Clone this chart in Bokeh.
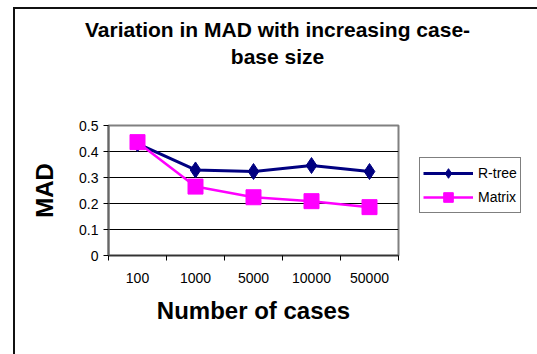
from bokeh.plotting import figure
from bokeh.layouts import column, row
from bokeh.models import (Range1d, LinearAxis, FixedTicker, Label,
                          Legend, LegendItem, ColumnDataSource)
from bokeh.embed import file_html
from bokeh.resources import INLINE

# ---- data ----
cases = ["100", "1000", "5000", "10000", "50000"]
rtree = [0.43, 0.329, 0.323, 0.346, 0.323]
matrix = [0.436, 0.265, 0.224, 0.209, 0.186]
y_ticks = [0, 0.1, 0.2, 0.3, 0.4, 0.5]
series_names = ["R-tree", "Matrix"]

title_lines = ["Variation in MAD with increasing case-", "base size"]
x_label = "Number of cases"
y_label = "MAD"

FONT = "Liberation Sans"
NAVY = "#000080"
MAGENTA = "#FF00FF"


def bare(fig):
    fig.outline_line_color = None
    fig.background_fill_color = "white"
    fig.border_fill_color = "white"
    for g in fig.grid:
        g.visible = False
    return fig


# ---------------- title strip ----------------
pt = bare(figure(width=522, height=100, output_backend="svg", toolbar_location=None,
                 x_range=Range1d(0, 522), y_range=Range1d(0, 100),
                 x_axis_location=None, y_axis_location=None,
                 min_border=0))
for txt, yb in zip(title_lines, [80, 53]):
    pt.add_layout(Label(x=262, y=yb, text=txt, text_align="center",
                        text_baseline="alphabetic", text_font=FONT,
                        text_font_style="bold", text_font_size="21px",
                        text_color="black"))

# ---------------- main chart ----------------
n = len(cases)
pos = [i + 0.5 for i in range(n)]          # category centres
bounds = [float(i) for i in range(n + 1)]  # category boundaries
src = ColumnDataSource(dict(x=pos, case=cases, rtree=rtree, matrix=matrix))

p = figure(width=395, height=245, output_backend="svg", toolbar_location=None,
           x_range=Range1d(0, n), y_range=Range1d(0, 0.5),
           x_axis_location=None, y_axis_label=y_label,
           min_border_left=93, min_border_right=12,
           min_border_top=16, min_border_bottom=99)
p.background_fill_color = "white"
p.border_fill_color = "white"
p.outline_line_color = "#808080"
p.outline_line_width = 2

ya = p.yaxis[0]
ya.ticker = FixedTicker(ticks=y_ticks)
ya.major_label_overrides = {0: "0"}
ya.axis_line_color = "#666666"
ya.axis_line_width = 2
ya.major_tick_in = 0
ya.major_tick_out = 5
ya.major_tick_line_color = "black"
ya.minor_tick_line_color = None
ya.major_label_text_font = FONT
ya.major_label_text_font_size = "14px"
ya.major_label_text_color = "black"
ya.major_label_standoff = 5
ya.axis_label_text_font = FONT
ya.axis_label_text_font_style = "bold"
ya.axis_label_text_font_size = "24px"
ya.axis_label_text_color = "black"
ya.axis_label_standoff = 18

for g in p.ygrid:
    g.ticker = FixedTicker(ticks=y_ticks[1:-1])
    g.grid_line_color = "black"
    g.grid_line_width = 1
for g in p.xgrid:
    g.visible = False

xa = LinearAxis(ticker=FixedTicker(ticks=pos, minor_ticks=bounds),
                major_label_overrides={c: lab for c, lab in zip(pos, cases)},
                axis_label=x_label)
xa.axis_line_color = "#333333"
xa.axis_line_width = 1.5
xa.major_tick_in = 0
xa.major_tick_out = 0
xa.minor_tick_in = 0
xa.minor_tick_out = 5
xa.minor_tick_line_color = "black"
xa.major_label_text_font = FONT
xa.major_label_text_font_size = "14px"
xa.major_label_text_color = "black"
xa.major_label_standoff = 12
xa.axis_label_text_font = FONT
xa.axis_label_text_font_style = "bold"
xa.axis_label_text_font_size = "24px"
xa.axis_label_text_color = "black"
xa.axis_label_standoff = 11
p.add_layout(xa, "below")

rt_style = dict(line_color=NAVY, line_width=3)
rt_mark = dict(marker="diamond", size=16, fill_color=NAVY, line_color=NAVY)
mx_style = dict(line_color=MAGENTA, line_width=2.5)
mx_mark = dict(marker="square", size=15, fill_color=MAGENTA, line_color=MAGENTA)

p.line("x", "rtree", source=src, **rt_style)
p.scatter("x", "rtree", source=src, **rt_mark)
p.line("x", "matrix", source=src, **mx_style)
p.scatter("x", "matrix", source=src, **mx_mark)

# ---------------- legend panel ----------------
pl = bare(figure(width=127, height=245, output_backend="svg", toolbar_location=None,
                 x_range=Range1d(0, 1), y_range=Range1d(0, 1),
                 x_axis_location=None, y_axis_location=None, min_border=0))
# legend-key renderers: one point each, kept outside the visible range
key_src = ColumnDataSource(dict(x=[-10, -11], y=[-10, -11]))
k1 = pl.line("x", "y", source=key_src, **rt_style)
k2 = pl.scatter("x", "y", source=key_src, **rt_mark)
k3 = pl.line("x", "y", source=key_src, **mx_style)
k4 = pl.scatter("x", "y", source=key_src, **mx_mark)
legend = Legend(items=[LegendItem(label=series_names[0], renderers=[k1, k2]),
                       LegendItem(label=series_names[1], renderers=[k3, k4])],
                location=(9, 42))
legend.border_line_color = "black"
legend.border_line_width = 1
legend.background_fill_color = "white"
legend.background_fill_alpha = 1
legend.label_text_font = FONT
legend.label_text_font_size = "14px"
legend.label_text_color = "black"
legend.glyph_width = 50
legend.glyph_height = 24
legend.label_height = 24
legend.spacing = 0
legend.padding = 3
legend.margin = 0
legend.label_standoff = 5
pl.add_layout(legend)

layout = column(pt, row(p, pl, spacing=0), spacing=0)
layout.margin = (7, 0, 0, 13)
layout.styles = {"border-left": "2px solid #111111", "border-top": "2px solid #111111"}

open("out.html", "w").write(file_html(layout, INLINE))
